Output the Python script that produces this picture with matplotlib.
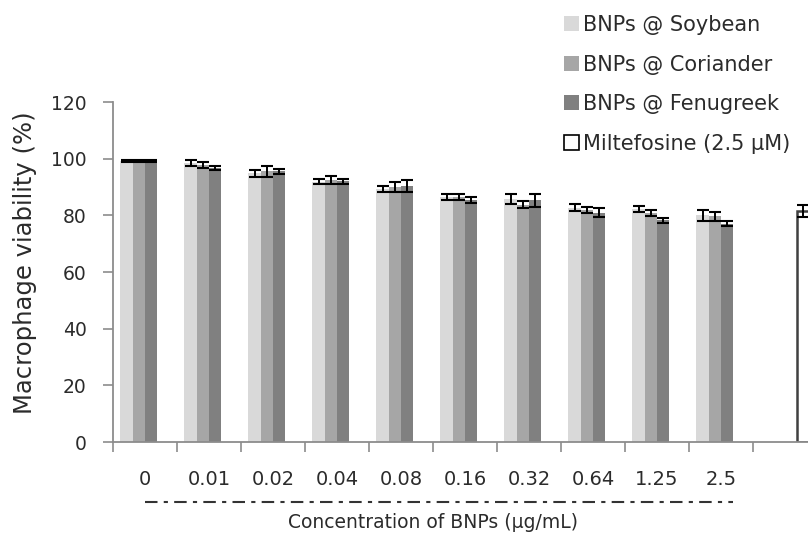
import matplotlib
matplotlib.use('Agg')
import matplotlib.pyplot as plt
import matplotlib.transforms as mtransforms
from matplotlib.patches import Patch
from matplotlib.lines import Line2D
import numpy as np

plt.rcParams['font.family'] = ['DejaVu Sans']

# concentrations of BNPs (ug/mL); last slot is the Miltefosine control
concentrations = ['0', '0.01', '0.02', '0.04', '0.08', '0.16', '0.32', '0.64', '1.25', '2.5']
soybean = [99.2, 98.5, 94.8, 91.9, 89.2, 86.4, 85.7, 82.7, 82.2, 80.0]
soybean_err = [0.3, 1.0, 1.2, 0.9, 1.1, 1.0, 1.8, 1.3, 1.0, 1.9]
coriander = [99.2, 97.7, 95.5, 92.4, 90.0, 86.4, 83.8, 81.9, 80.8, 79.6]
coriander_err = [0.3, 1.1, 1.9, 1.4, 1.8, 1.0, 1.3, 1.2, 1.0, 1.5]
fenugreek = [99.2, 96.7, 95.5, 92.0, 90.3, 85.5, 85.3, 81.0, 78.2, 77.1]
fenugreek_err = [0.3, 0.7, 1.0, 1.0, 2.2, 1.0, 2.2, 1.5, 0.8, 1.0]
miltefosine = [81.5]
miltefosine_err = [2.0]

labels = ['BNPs @ Soybean', 'BNPs @ Coriander', 'BNPs @ Fenugreek', 'Miltefosine (2.5 µM)']
colors = ['#d9d9d9', '#a6a6a6', '#808080', 'white']

fig = plt.figure(figsize=(8.08, 5.40), dpi=100)
# axes run past the right edge, like the cropped original
ax = fig.add_axes([113 / 808, 98 / 540, 704 / 808, 340 / 540])

n = len(concentrations)
x = np.arange(n)
w = 0.192
err_kw = dict(ecolor='black', elinewidth=1.4, capsize=4.4, capthick=1.5)

series = [(soybean, soybean_err), (coriander, coriander_err), (fenugreek, fenugreek_err)]
for k, (vals, errs) in enumerate(series):
    ax.bar(x + (k - 1.5) * w, vals, w, yerr=errs, color=colors[k], error_kw=err_kw, zorder=2)

ax.bar([n + 1.5 * w], miltefosine, w, yerr=miltefosine_err, color='white',
       edgecolor='#404040', linewidth=1.8, error_kw=err_kw, zorder=2)

ax.set_xlim(-0.5, n + 0.5)
ax.set_ylim(0, 120)
ax.set_yticks(np.arange(0, 121, 20))

for s in ['top', 'right']:
    ax.spines[s].set_visible(False)
for s in ['left', 'bottom']:
    ax.spines[s].set_color('#8c8c8c')
    ax.spines[s].set_linewidth(1.3)

txt = '#2b2b2b'
ax.tick_params(axis='y', direction='out', length=7, width=1.2, color='#8c8c8c',
               labelsize=13.5, labelcolor=txt, pad=12)
ax.set_xticks(np.arange(-0.5, n + 1, 1))
ax.set_xticklabels([])
ax.tick_params(axis='x', which='major', direction='out', length=7, width=1.2, color='#8c8c8c')
ax.set_xticks(x, minor=True)
ax.set_xticklabels(concentrations, minor=True)
ax.tick_params(axis='x', which='minor', length=0, labelsize=14, labelcolor=txt, pad=20)

ax.set_ylabel('Macrophage viability (%)', fontsize=17.5, color=txt)
ax.yaxis.set_label_coords(25 / 808, 1 - 263 / 540, transform=fig.transFigure)
ax.yaxis.label.set_va('center')

trans = mtransforms.blended_transform_factory(ax.transData, fig.transFigure)
ax.set_xlabel('Concentration of BNPs (µg/mL)', fontsize=13.5, color=txt)
ax.xaxis.set_label_coords((n - 1) / 2, 1 - 523 / 540, transform=trans)
ax.xaxis.label.set_va('center')

# dash-dot rule under the concentration labels
ax.add_line(Line2D([x[0], x[-1] + 0.18], [1 - 502 / 540] * 2, transform=trans,
                   color='#333333', linestyle=(0, (6, 3, 2, 3)), linewidth=1.5, clip_on=False))

handles = [Patch(facecolor=c, edgecolor='none') for c in colors[:3]]
handles.append(Patch(facecolor='white', edgecolor='black', linewidth=1.2))
fig.legend(handles, labels, loc='upper left', bbox_to_anchor=(564 / 808, 1 - 15 / 540),
           frameon=False, fontsize=15, handlelength=0.72, handleheight=0.72,
           handletextpad=0.2, labelspacing=0.94, borderpad=0, borderaxespad=0,
           labelcolor=txt)

fig.savefig('out.png', dpi=100)
